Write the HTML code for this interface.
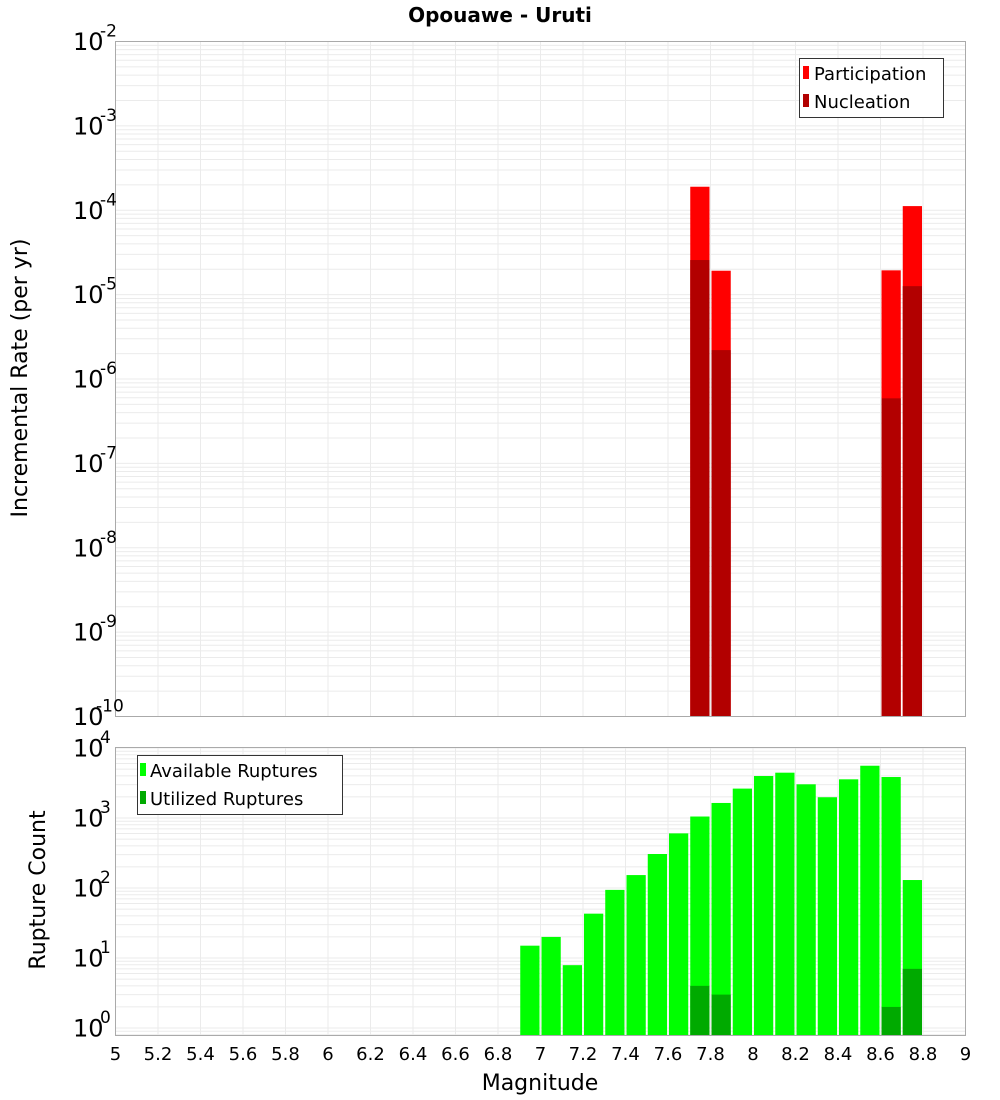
<!DOCTYPE html>
<html><head><meta charset="utf-8"><style>
body{margin:0;background:#fff;}
svg{display:block;font-family:"DejaVu Sans","Liberation Sans",sans-serif;}
</style></head><body>
<svg id="c" width="1000" height="1100"></svg>
<script>
const magCenters=[6.95,7.05,7.15,7.25,7.35,7.45,7.55,7.65,7.75,7.85,7.95,8.05,8.15,8.25,8.35,8.45,8.55,8.65,8.75];
const available=[15,20,7.9,43,94,153,306,603,1050,1640,2630,3980,4440,3030,1980,3570,5580,3850,130];
const utilMags=[7.75,7.85,8.65,8.75];
const utilized=[4,3,2,7];
const rateMags=[7.75,7.85,8.65,8.75];
const participation=[1.9e-4,1.92e-5,1.94e-5,1.12e-4];
const nucleation=[2.57e-5,2.2e-6,5.9e-7,1.26e-5];
const xTicks=[5,5.2,5.4,5.6,5.8,6,6.2,6.4,6.6,6.8,7,7.2,7.4,7.6,7.8,8,8.2,8.4,8.6,8.8,9];
const topExps=[-2,-3,-4,-5,-6,-7,-8,-9,-10];
const botExps=[4,3,2,1,0];

const NS='http://www.w3.org/2000/svg';
const svg=document.getElementById('c');
function mk(tag,attrs,parent){const e=document.createElementNS(NS,tag);for(const k in attrs)e.setAttribute(k,attrs[k]);(parent||svg).appendChild(e);return e;}
const L=115.5,R=965.5;
const x=m=>L+(m-5)*(R-L)/4;
const T1=41.5,B1=716.5;
const y1=v=>T1+(-2-Math.log10(v))*84.375;
const T2=747.5,B2=1035.5;
const y2=v=>1028-Math.log10(v)*70;
const bw=(R-L)/40-2;

function grid(top,bot,yf,lo,hi,nm){
  const g=mk('g',{});
  
  
  for(let e=lo;e<=hi;e++){for(let k=1;k<10;k++){const v=k*Math.pow(10,e);const yy=yf(v);if(yy<top||yy>bot)continue;
    mk('line',{x1:L,x2:R,y1:yy,y2:yy,stroke:'#ebebeb','stroke-width':1},g);}}
  for(const t of xTicks){mk('line',{x1:x(t),x2:x(t),y1:top,y2:bot,stroke:'#ebebeb','stroke-width':1},g);}
}
grid(T1,B1,y1,-10,-2,'top-grid');
grid(T2,B2,y2,-1,4,'bottom-grid');

// top bars
rateMags.forEach((m,i)=>{
  const p=mk('rect',{x:x(m)-bw/2,y:y1(participation[i]),width:bw,height:B1-y1(participation[i]),fill:'#ff0000'});
  
  
  const n=mk('rect',{x:x(m)-bw/2,y:y1(nucleation[i]),width:bw,height:B1-y1(nucleation[i]),fill:'#b20000'});
  
  
});
// bottom bars
magCenters.forEach((m,i)=>{
  const yy=y2(available[i]);
  const r=mk('rect',{x:x(m)-bw/2,y:yy,width:bw,height:B2-yy,fill:'#00ff00'});
  
  
});
utilMags.forEach((m,i)=>{
  const yy=y2(utilized[i]);
  const r=mk('rect',{x:x(m)-bw/2,y:yy,width:bw,height:B2-yy,fill:'#00aa00'});
  
  
});
// frames
const f1=mk('rect',{x:L,y:T1,width:R-L,height:B1-T1,fill:'none',stroke:'#aaa'});


const f2=mk('rect',{x:L,y:T2,width:R-L,height:B2-T2,fill:'none',stroke:'#aaa'});



function ylabel(tick,e,nm){
  const t=mk('text',{x:73,y:tick+8.5,'font-size':24,fill:'#000'});t.textContent='10';
  
  
  const s=mk('text',{x:e<=-10?96:100,y:tick-5,'font-size':17,fill:'#000'});s.textContent=String(e);
  
  
}
topExps.forEach(e=>ylabel(y1(Math.pow(10,e)),e,'top-y-tick-label'));
botExps.forEach(e=>ylabel(y2(Math.pow(10,e)),e,'bottom-y-tick-label'));
xTicks.forEach(t=>{
  const tx=mk('text',{x:x(t),y:1060,'font-size':18,'text-anchor':'middle',fill:'#000'});
  tx.textContent=String(t);
  
  
});
</script>
<svg width="1000" height="1100" style="position:absolute;left:0;top:0;font-family:'DejaVu Sans','Liberation Sans',sans-serif">
<text x="500" y="22" font-size="20" font-weight="bold" text-anchor="middle">Opouawe - Uruti</text>
<text transform="translate(27,378) rotate(-90)" font-size="22" text-anchor="middle">Incremental Rate (per yr)</text>
<text transform="translate(45,890) rotate(-90)" font-size="22" text-anchor="middle">Rupture Count</text>
<text x="540" y="1090" font-size="22" text-anchor="middle">Magnitude</text>
<g>
<rect x="799.5" y="58.5" width="144" height="59" fill="#fff" stroke="#333"/>
<rect x="803" y="66" width="6" height="13" fill="#ff0000"/>
<text x="814" y="80" font-size="18">Participation</text>
<rect x="803" y="94" width="6" height="13" fill="#b20000"/>
<text x="814" y="108" font-size="18">Nucleation</text>
</g>
<g>
<rect x="137.5" y="755.5" width="205" height="59" fill="#fff" stroke="#333"/>
<rect x="140" y="763" width="6" height="13" fill="#00ff00"/>
<text x="150" y="777" font-size="18">Available Ruptures</text>
<rect x="140" y="791" width="6" height="13" fill="#00aa00"/>
<text x="150" y="805" font-size="18">Utilized Ruptures</text>
</g>
</svg>
</body></html>
